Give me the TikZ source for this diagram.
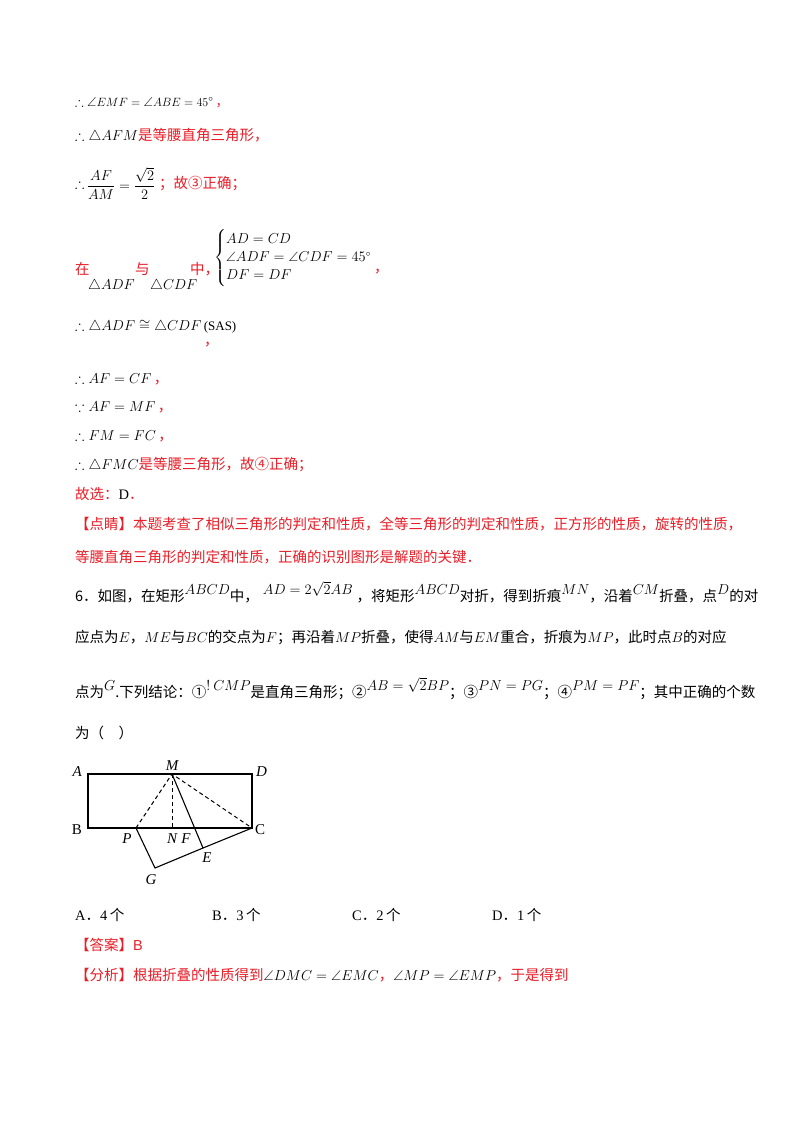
\documentclass[tikz,border=0pt]{standalone}
\usepackage{amsmath,amssymb}
\usepackage{fontspec}
\setmainfont{Liberation Serif}
\newfontfamily\cjk{Noto Sans CJK SC}
\definecolor{dred}{RGB}{232,30,40}
\newcommand\T[4]{\node[anchor=base west,inner sep=0pt] (#1) at (#2,#3) {#4};}
\newcommand\R[1]{{\color{dred}\cjk #1}}
\newcommand\up[1]{\raisebox{7pt}{\fontsize{13.5}{13}\selectfont$#1$}}
\newcommand\mm[1]{{\fontsize{14}{14}\selectfont$#1$}}
\begin{document}
\begin{tikzpicture}[x=1pt,y=-1pt,font=\fontsize{14.5}{16}\selectfont,
  edge/.style={line width=1.1pt},dashline/.style={line width=1pt,dash pattern=on 4pt off 3pt},
  lab/.style={font=\fontsize{15}{15}\selectfont\itshape,inner sep=1pt}]
\useasboundingbox (0,0) rectangle (800,1132);
\fill[white] (0,0) rectangle (800,1132);
\T{l1}{75}{106}{\fontsize{13}{13}\selectfont$\therefore\angle EMF=\angle ABE=45^\circ$\,\R{，}}
\T{l2}{75}{140}{\mm{\therefore\triangle AFM}\R{是等腰直角三角形，}}
\T{l3}{75}{188}{\mm{\therefore}\,\raisebox{-2pt}{\fontsize{14}{14}\selectfont$\dfrac{AF}{AM}=\dfrac{\sqrt2}{2}$}\ \R{；故③正确；}}
\T{l4a}{75}{274}{\R{在}}
\T{l4b}{88}{289}{\mm{\triangle ADF}}
\T{l4c}{135}{274}{\R{与}}
\T{l4d}{150}{289}{\mm{\triangle CDF}}
\T{l4e}{190}{274}{\R{中，}}
\node[anchor=west,inner sep=0pt] (sys) at (214,258) {\fontsize{13.5}{15}\selectfont$\begin{cases}AD=CD\\ \angle ADF=\angle CDF=45^\circ\\ DF=DF\end{cases}$};
\T{l4f}{374}{272}{\R{，}}
\T{l5}{75}{330}{\mm{\therefore\triangle ADF\cong\triangle CDF}\,{\fontsize{13}{13}\selectfont(SAS)}}
\T{l5b}{204}{345}{\R{，}}
\T{l6}{75}{383}{\mm{\therefore AF=CF}\,\R{，}}
\T{l7}{75}{411}{\mm{\because AF=MF}\,\R{，}}
\T{l8}{75}{440}{\mm{\therefore FM=FC}\,\R{，}}
\T{l9}{75}{469}{\mm{\therefore\triangle FMC}\R{是等腰三角形，故④正确；}}
\T{l10}{75}{499}{\R{故选：}{\color{black}D}\R{．}}
\T{l11}{75}{529}{\R{【点睛】本题考查了相似三角形的判定和性质，全等三角形的判定和性质，正方形的性质，旋转的性质，}}
\T{l12}{75}{562}{\R{等腰直角三角形的判定和性质，正确的识别图形是解题的关键．}}
\T{q1}{75}{601}{\cjk 6．如图，在矩形\up{ABCD}中，\hspace{4pt}\up{AD=2\sqrt2AB}\hspace{4pt}，将矩形\up{ABCD}对折，得到折痕\up{MN}，沿着\up{CM}折叠，点\up{D}的对}
\T{q2}{75}{642}{\cjk 应点为\mm{E}，\mm{ME}与\mm{BC}的交点为\mm{F}；再沿着\mm{MP}折叠，使得\mm{AM}与\mm{EM}重合，折痕为\mm{MP}，此时点\mm{B}的对应}
\T{q3}{75}{697}{\cjk 点为\up{G}.下列结论：①\up{!\ CMP}是直角三角形；②\up{AB=\sqrt2BP}；③\up{PN=PG}；④\up{PM=PF}；其中正确的个数}
\T{q4}{75}{738}{\cjk 为（\quad ）}
% figure
\coordinate (A) at (88,774); \coordinate (D) at (252,774);
\coordinate (B) at (88,828); \coordinate (C) at (252,828);
\coordinate (M) at (172,774); \coordinate (N) at (172,828);
\coordinate (P) at (136,828); \coordinate (F) at (193,828);
\coordinate (E) at (203,848); \coordinate (G) at (155,868);
\draw[edge] (A) -- (D) -- (C) -- (B) -- cycle;
\draw[edge] (M) -- (E) -- (C);
\draw[edge] (E) -- (G) -- (P);
\draw[dashline] (P) -- (M) -- (C);
\draw[dashline] (M) -- (N);
\node[lab,anchor=east] (lA) at (83,772) {A};
\node[lab,anchor=south] (lM) at (172,772) {M};
\node[lab,anchor=west] (lD) at (255,772) {D};
\node[lab,anchor=east,font=\fontsize{15}{15}\selectfont] (lB) at (83,830) {B};
\node[lab,anchor=west,font=\fontsize{15}{15}\selectfont] (lC) at (254,830) {C};
\node[lab] (lP) at (127,839) {P};
\node[lab] (lN) at (172,839) {N};
\node[lab] (lF) at (186,839) {F};
\node[lab] (lE) at (207,858) {E};
\node[lab] (lG) at (151,880) {G};
% choices
\T{c1}{75}{920}{A{\cjk ．}4\,{\cjk 个}}
\T{c2}{212}{920}{B{\cjk ．}3\,{\cjk 个}}
\T{c3}{352}{920}{C{\cjk ．}2\,{\cjk 个}}
\T{c4}{492}{920}{D{\cjk ．}1\,{\cjk 个}}
\T{a1}{75}{950}{\R{【答案】}{\color{dred}\fontspec{Liberation Sans}B}}
\T{a2}{75}{980}{\R{【分析】根据折叠的性质得到}\mm{\angle DMC=\angle EMC}\R{，}\mm{\angle MP=\angle EMP}\R{，于是得到}}
\end{tikzpicture}
\end{document}
